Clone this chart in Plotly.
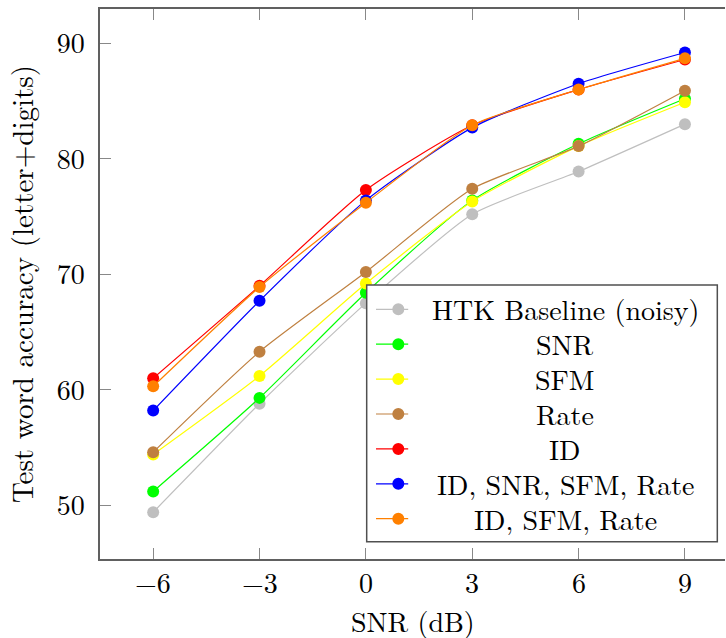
import plotly.graph_objects as go

# SNR conditions (dB)
snr_db = [-6, -3, 0, 3, 6, 9]

# Test word accuracy (%) per feature set
htk_baseline = [49.4, 58.8, 67.5, 75.2, 78.9, 83.0]
snr_feat = [51.2, 59.3, 68.4, 76.4, 81.3, 85.2]
sfm_feat = [54.4, 61.2, 69.2, 76.3, 81.1, 84.9]
rate_feat = [54.6, 63.3, 70.2, 77.4, 81.1, 85.9]
id_feat = [61.0, 69.0, 77.3, 82.9, 86.0, 88.6]
id_snr_sfm_rate = [58.2, 67.7, 76.4, 82.7, 86.5, 89.2]
id_sfm_rate = [60.3, 68.9, 76.2, 82.9, 86.0, 88.7]

series_names = ["HTK Baseline (noisy)", "SNR", "SFM", "Rate", "ID",
                "ID, SNR, SFM, Rate", "ID, SFM, Rate"]
series_values = [htk_baseline, snr_feat, sfm_feat, rate_feat, id_feat,
                 id_snr_sfm_rate, id_sfm_rate]
series_colors = ["#bfbfbf", "#00ff00", "#ffff00", "#bf8040", "#ff0000",
                 "#0000ff", "#ff8000"]

x_ticks = [-6, -3, 0, 3, 6, 9]
y_ticks = [50, 60, 70, 80, 90]

FONT = "Latin Modern Roman, Liberation Serif, serif"
AXIS_COLOR = "#606060"

fig = go.Figure()
for name, vals, col in zip(series_names, series_values, series_colors):
    fig.add_trace(go.Scatter(
        x=snr_db, y=vals, name=name, mode="lines+markers",
        line=dict(color=col, width=1.2, shape="spline", smoothing=0.6),
        marker=dict(color=col, size=12),
        showlegend=False,
    ))

shapes = []
annotations = []

# x tick labels placed as annotations to sit close under the axis
for v in x_ticks:
    label = ("\u2212" + str(abs(v))) if v < 0 else str(v)
    annotations.append(dict(xref="x", yref="paper", x=v, y=0,
                            yanchor="middle", yshift=-22, text=label,
                            showarrow=False,
                            font=dict(family=FONT, size=28, color="black")))

# x axis title
annotations.append(dict(xref="paper", yref="paper", x=0.5, y=0,
                        xanchor="center", yanchor="middle", yshift=-61,
                        text="SNR (dB)", showarrow=False,
                        font=dict(family=FONT, size=28, color="black")))

# Legend box drawn as shapes/annotations so the labels can be centred
box_x0, box_x1 = 0.4267, 0.9877
box_y0, box_y1 = 0.0315, 0.4982
shapes.append(dict(type="rect", xref="paper", yref="paper",
                   x0=box_x0, x1=box_x1, y0=box_y0, y1=box_y1,
                   line=dict(color="#505050", width=1.5),
                   fillcolor="white", layer="above"))
row_top = 0.4540
row_step = 0.06345
for i, (name, col) in enumerate(zip(series_names, series_colors)):
    yp = row_top - i * row_step
    shapes.append(dict(type="line", xref="paper", yref="paper",
                       x0=0.4416, x1=0.4931, y0=yp, y1=yp,
                       line=dict(color=col, width=1.2), layer="above"))
    shapes.append(dict(type="circle", xref="paper", yref="paper",
                       xsizemode="pixel", ysizemode="pixel",
                       xanchor=0.4773, yanchor=yp,
                       x0=-6, x1=6, y0=-6, y1=6,
                       line=dict(width=0), fillcolor=col, layer="above"))
    annotations.append(dict(xref="paper", yref="paper", x=0.744, y=yp,
                            text=name, showarrow=False,
                            xanchor="center", yanchor="middle", yshift=1,
                            font=dict(family=FONT, size=28, color="black")))

fig.update_layout(
    width=726, height=638,
    margin=dict(l=100, r=1, t=9, b=79),
    paper_bgcolor="white", plot_bgcolor="white",
    font=dict(family=FONT, size=28, color="black"),
    shapes=shapes, annotations=annotations,
    xaxis=dict(
        range=[-7.5, 10.13], tickvals=x_ticks, showticklabels=False,
        ticks="inside", ticklen=11, tickwidth=1, tickcolor="#888888",
        showline=True, linecolor=AXIS_COLOR, linewidth=1.5, mirror="ticks",
        showgrid=False, zeroline=False,
    ),
    yaxis=dict(
        range=[45.35, 92.97], tickvals=y_ticks,
        ticks="inside", ticklen=11, tickwidth=1, tickcolor="#888888",
        showline=True, linecolor=AXIS_COLOR, linewidth=1.5, mirror=False,
        showgrid=False, zeroline=False,
        ticklabelstandoff=8,
        title=dict(text="Test word accuracy (letter+digits)",
                   font=dict(family=FONT, size=29), standoff=14),
    ),
)

fig.write_html("out.html")
